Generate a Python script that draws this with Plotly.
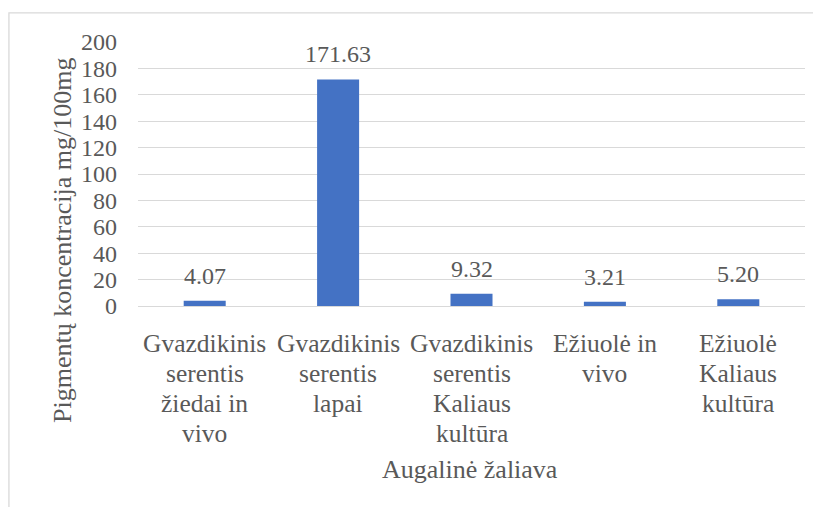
import plotly.graph_objects as go

categories = [
    "Gvazdikinis<br>serentis<br>žiedai in<br>vivo",
    "Gvazdikinis<br>serentis<br>lapai",
    "Gvazdikinis<br>serentis<br>Kaliaus<br>kultūra",
    "Ežiuolė in<br>vivo",
    "Ežiuolė<br>Kaliaus<br>kultūra",
]
values = [4.07, 171.63, 9.32, 3.21, 5.20]
value_labels = ["4.07", "171.63", "9.32", "3.21", "5.20"]
y_ticks = [0, 20, 40, 60, 80, 100, 120, 140, 160, 180, 200]
x_title = "Augalinė žaliava"
y_title = "Pigmentų koncentracija mg/100mg"

FONT = "Times New Roman"
GREY = "#595959"
FS_NUM = 24
FS_TXT = 25.5

fig = go.Figure(
    go.Bar(
        x=categories,
        y=values,
        marker=dict(color="#4472C4", line=dict(width=0)),
        cliponaxis=False,
    )
)

# value labels above bars
annotations = [
    dict(x=c, y=v, xref="x", yref="y", text=t, showarrow=False,
         yanchor="middle", xanchor="center", yshift=25,
         font=dict(family=FONT, size=FS_NUM, color=GREY))
    for c, v, t in zip(categories, values, value_labels)
]

# category labels (one annotation per line for tighter line spacing)
for c in categories:
    for i, line in enumerate(c.split("<br>")):
        annotations.append(dict(
            x=c, y=0, xref="x", yref="y", text=line, showarrow=False,
            xanchor="center", yanchor="middle", yshift=-(37 + 30 * i),
            font=dict(family=FONT, size=FS_TXT, color=GREY)))

annotations.append(dict(
    x=-0.114, y=0.25, xref="paper", yref="paper", text=y_title, textangle=-90,
    showarrow=False, xanchor="center", yanchor="middle",
    font=dict(family=FONT, size=FS_TXT + 0.5, color=GREY)))
annotations.append(dict(
    x=0.4978, y=-0.62, xref="paper", yref="paper", text=x_title,
    showarrow=False, xanchor="center", yanchor="middle",
    font=dict(family=FONT, size=FS_TXT + 0.5, color=GREY)))

fig.update_layout(
    width=813,
    height=499,
    margin=dict(l=130, r=16, t=34, b=201, autoexpand=False),
    paper_bgcolor="white",
    plot_bgcolor="white",
    bargap=0.685,
    showlegend=False,
    font=dict(family=FONT, size=FS_NUM, color=GREY),
    annotations=annotations,
    shapes=[
        dict(
            type="rect", xref="paper", yref="paper",
            x0=-0.1935, x1=1.5, y0=-2, y1=1.11,
            line=dict(color="#D9D9D9", width=1.3),
            fillcolor="rgba(0,0,0,0)", layer="below",
        )
    ],
)

fig.update_yaxes(
    range=[0, 200],
    tickvals=y_ticks,
    showgrid=True,
    gridcolor="#D9D9D9",
    gridwidth=1.3,
    zeroline=True,
    zerolinecolor="#D9D9D9",
    zerolinewidth=1.3,
    showline=False,
    ticks="",
    automargin=False,
    ticklabelstandoff=20,
    tickfont=dict(family=FONT, size=FS_NUM, color=GREY),
)

fig.update_xaxes(
    showgrid=False,
    showline=False,
    ticks="",
    showticklabels=False,
    automargin=False,
)

fig.write_html("out.html")
